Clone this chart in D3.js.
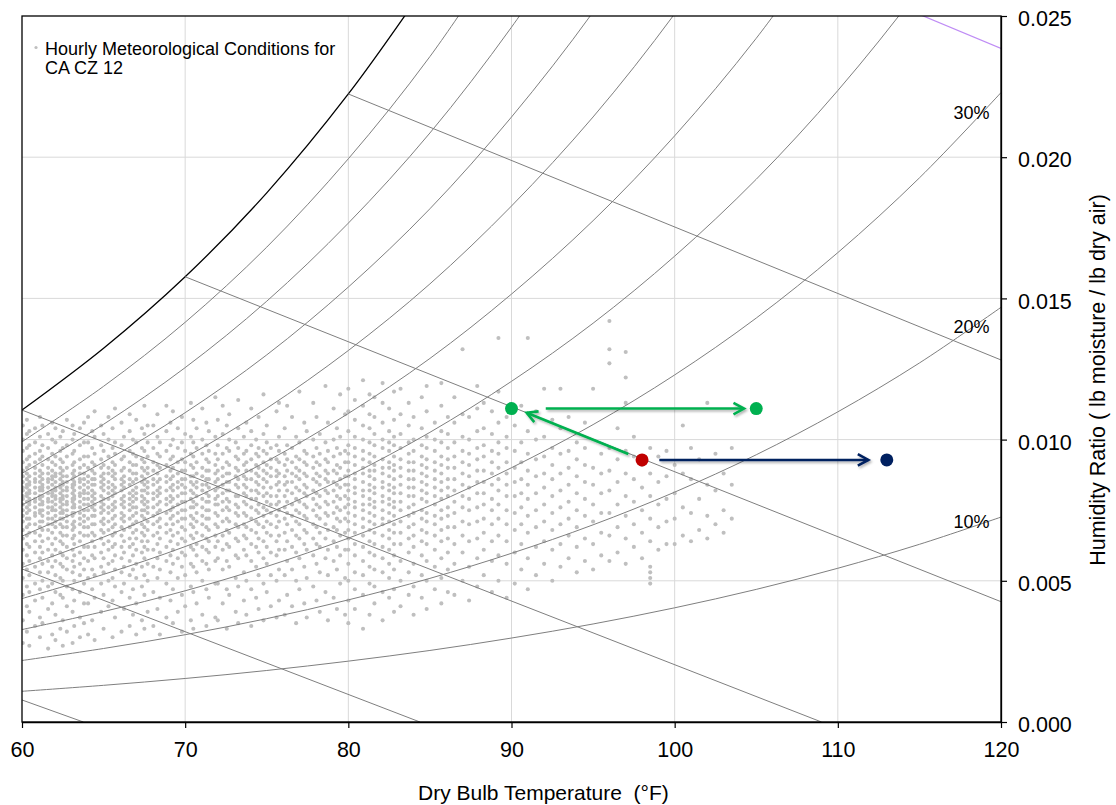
<!DOCTYPE html>
<html><head><meta charset="utf-8">
<script src="https://cdn.jsdelivr.net/npm/d3@7"></script>
<style>
body{margin:0;background:#fff}
text{font-family:"Liberation Sans",Arial,sans-serif;fill:#000}
</style></head>
<body><svg id="chart" width="1116" height="805"></svg>
<script>
// ---------- data ----------
const xTicks = [60,70,80,90,100,110,120];
const yTicks = [0,0.005,0.010,0.015,0.020,0.025];
const curveTemps = [60,65,70,75,80,85,90,95,100,105,110,115,120];
const rh10 = [0.001087,0.001299,0.001541,0.001824,0.002155,0.002533,0.002973,0.003471,0.004044,0.004696,0.005444,0.006292,0.007256];
const rh20 = [0.002178,0.002603,0.003091,0.003660,0.004324,0.005086,0.005974,0.006982,0.008140,0.009463,0.010983,0.012713,0.014683];
const rh30 = [0.003273,0.003912,0.004647,0.005506,0.006509,0.007661,0.009004,0.010531,0.012290,0.014304,0.016622,0.019267,0.022288];
const rh40 = [0.004371,0.005228,0.006212,0.007363,0.008709,0.010257,0.012063,0.014121,0.016496,0.019219,0.022361,0.025957,0.030076];
const rh50 = [0.005474,0.006548,0.007784,0.009230,0.010924,0.012874,0.015153,0.017752,0.020757,0.024211,0.028205];
const rh60 = [0.006580,0.007874,0.009365,0.011110,0.013155,0.015513,0.018272,0.021425,0.025077,0.029281];
const rh70 = [0.007690,0.009206,0.010953,0.013000,0.015402,0.018174,0.021423,0.025140,0.029454];
const rh80 = [0.008804,0.010543,0.012549,0.014901,0.017665,0.020857,0.024604,0.028899];
const rh90 = [0.009923,0.011887,0.014154,0.016815,0.019944,0.023563,0.027817];
const rh100 = [0.011045,0.013235,0.015766,0.018739,0.022239,0.026292];
const rhCurves = [rh10,rh20,rh30,rh40,rh50,rh60,rh70,rh80,rh90];

// constant wet-bulb lines [T, W] end points
const wb40 = [[60,0.00078],[63.76,0]];
const wb50 = [[60,0.00542],[84.39,0]];
const wb60 = [[60,0.011045],[109.0,0]];
const wb70 = [[70,0.015766],[120,0.00426]];
const wb80 = [[80,0.022239],[120,0.01282]];
const wb90 = [[90,0.031063],[120,0.023855]];
const wbGray = [wb40,wb50,wb60,wb70,wb80];

const rhLabelText = ["10%","20%","30%"];
const rhLabelT = [119.3,119.3,119.3];
const rhLabelW = [0.00687,0.013775,0.02135];

const markerT = [98,90,105,113];
const markerW = [0.00928,0.0111,0.0111,0.00928];
const markerColor = ["#c00000","#00b050","#00b050","#002060"];

const arrowFrom = [[97.16,0.00949],[92.1,0.0111],[99.06,0.00928]];
const arrowTo   = [[90.93,0.01095],[104.25,0.0111],[111.87,0.00928]];
const arrowColor = ["#00b050","#00b050","#002060"];

// hourly conditions: [dry bulb °F, humidity ratio values x 1e-4]
const scatterCols = [
[60.05,[28,36,45,51,56,61,65,68,71,73,75,77,79,80,82,83,85,87,89,92,96,100,105]],
[60.30,[32,41,48,54,59,63,66,69,72,74,76,78,80,81,83,84,86,88,90,93,97,102,107]],
[60.45,[27,39,46,52,57,62,67,70,72,75,77,78,79,81,82,84,85,87,91,94,98,103]],
[60.80,[34,43,49,55,60,64,67,70,73,74,76,78,79,81,83,85,86,88,90,92,95,99,104]],
[61.10,[30,37,47,53,58,62,66,69,71,74,75,77,79,80,82,83,85,87,89,93,96,101,108]],
[61.25,[35,44,50,56,60,64,68,71,73,75,77,78,80,82,83,84,86,88,91,94,98,105]],
[61.60,[26,40,48,53,57,61,65,68,70,72,74,76,78,79,81,83,85,86,88,90,93,97,102]],
[61.85,[31,42,49,55,59,63,67,70,72,75,76,78,80,81,82,84,86,87,89,92,95,100,106]],
[62.05,[29,38,46,52,57,61,65,69,71,73,75,77,79,80,82,83,85,87,88,91,94,99,104]],
[62.35,[33,45,51,56,60,64,67,70,72,74,76,78,79,81,83,84,86,88,90,93,96,101]],
[62.50,[27,36,44,50,55,59,63,66,69,72,74,75,77,79,80,82,84,85,87,89,92,97,103]],
[62.75,[32,41,48,54,58,62,66,69,71,73,75,77,78,80,82,83,85,87,90,94,98,107]],
[63.10,[28,39,47,53,57,61,65,68,70,73,74,76,78,79,81,83,84,86,88,91,95,100,105]],
[63.20,[34,43,50,55,59,63,66,69,71,74,76,77,79,80,82,84,85,87,89,92,96,102]],
[63.55,[30,37,46,52,56,60,64,67,70,72,74,76,78,80,81,83,85,86,88,90,93,98,104]],
[63.80,[35,42,49,54,58,62,66,69,71,73,75,77,79,81,82,84,86,88,91,94,99,106]],
[64.05,[31,42,51,57,62,66,69,72,75,77,79,81,83,85,87,90,94,99,108]],
[64.30,[36,47,54,59,64,67,70,73,76,78,80,82,84,86,89,92,97,103]],
[64.45,[29,44,52,58,62,66,70,73,75,77,79,81,84,86,88,91,95,101,110]],
[64.85,[39,49,55,60,65,68,71,74,76,78,80,83,85,87,90,93,98,105]],
[65.00,[33,45,53,58,63,67,70,72,75,77,79,82,84,86,88,91,96,102]],
[65.30,[41,50,56,61,64,68,71,74,76,79,81,83,85,88,90,94,100,108]],
[65.55,[30,43,51,57,62,66,69,72,75,77,80,82,84,87,89,92,97,104]],
[65.70,[37,48,54,59,63,67,70,73,76,78,81,83,86,88,91,95,99,111]],
[66.10,[32,46,53,58,62,66,69,72,74,77,79,82,84,86,89,93,98,106]],
[66.25,[40,49,55,60,64,68,71,73,76,78,80,83,85,87,90,94,101]],
[66.60,[34,44,52,57,62,65,69,72,75,77,79,81,84,86,89,92,96,103,109]],
[66.80,[38,47,54,59,63,67,70,73,76,78,80,82,85,88,91,95,100]],
[67.00,[31,42,51,56,61,65,68,71,74,76,79,81,83,86,88,91,94,99,107]],
[67.35,[36,48,55,60,64,67,70,73,75,78,80,82,85,87,90,93,97,104]],
[67.50,[33,45,52,58,62,66,69,72,75,77,79,82,84,86,89,92,96,102,112]],
[67.70,[39,50,56,61,64,68,71,74,76,78,81,83,85,88,90,94,99,105]],
[68.05,[34,46,55,61,66,70,73,76,79,81,84,86,89,92,97,105]],
[68.30,[40,51,58,63,67,71,74,77,80,82,85,88,91,95,101,109]],
[68.45,[31,44,54,60,65,69,72,75,78,81,83,86,90,94,99]],
[68.85,[37,49,57,62,67,70,74,77,79,82,85,87,91,96,103,112]],
[69.10,[43,53,59,64,68,72,75,78,80,83,86,89,93,98,106]],
[69.25,[35,47,56,61,66,70,73,76,79,82,84,87,90,94,100,110]],
[69.55,[39,51,58,63,67,71,74,77,80,83,85,88,92,97,104]],
[69.80,[32,45,55,60,65,69,72,75,78,81,84,86,89,93,99,108]],
[70.00,[41,52,59,64,68,72,75,78,81,83,86,89,92,96,102]],
[70.35,[36,48,56,62,66,70,73,76,79,82,85,87,91,95,101,113]],
[70.50,[33,46,55,61,65,69,72,76,78,81,84,87,90,94,99,107]],
[70.70,[42,53,59,63,67,71,74,77,80,83,85,88,92,97,104]],
[71.05,[38,50,57,62,66,70,73,76,79,82,84,87,90,95,100,111]],
[71.30,[34,47,56,61,65,69,72,75,78,81,84,86,89,93,98,106]],
[71.45,[44,54,60,64,68,72,75,78,80,83,86,89,92,96,103]],
[71.85,[37,49,57,62,66,70,74,77,79,82,85,88,91,95,101,115]],
[72.00,[36,49,58,64,69,73,77,80,83,86,89,93,98,107]],
[72.30,[42,54,61,66,71,75,78,81,84,87,90,95,102,112]],
[72.55,[33,47,57,63,68,72,76,79,82,85,88,92,97,105]],
[72.70,[45,55,62,67,71,75,78,82,85,88,91,96,100,109]],
[73.10,[39,51,59,65,70,74,77,80,84,87,90,94,99]],
[73.25,[35,48,58,64,69,73,76,80,83,86,89,93,97,104,114]],
[73.60,[43,53,61,66,70,74,78,81,84,87,91,95,101]],
[73.75,[38,50,59,65,69,73,77,80,83,86,89,92,96,106]],
[74.05,[34,47,57,63,68,72,76,79,82,86,89,93,98,103,111]],
[74.35,[44,55,62,67,71,75,79,82,85,88,91,95,100]],
[74.50,[40,52,60,65,70,74,77,81,84,87,90,94,97,108]],
[74.80,[36,49,58,64,69,73,76,80,83,86,89,92,96,102,116]],
[75.00,[46,56,62,67,71,75,78,81,85,88,91,95,99,105]],
[75.25,[41,52,60,66,70,74,77,80,83,87,90,93,97]],
[75.60,[37,50,59,64,69,73,77,80,84,87,89,93,98,110]],
[75.75,[43,54,61,66,71,75,78,82,85,88,92,96,101,113]],
[76.10,[38,52,61,67,72,76,80,84,87,91,95,104]],
[76.25,[45,57,64,70,74,78,82,85,89,93,98,112]],
[76.55,[41,54,62,68,73,77,81,85,88,92,97,108]],
[76.80,[35,50,60,66,71,75,79,83,87,90,94,101]],
[77.00,[47,58,65,70,74,78,82,86,89,93,99,117]],
[77.30,[42,55,63,68,73,77,81,84,88,92,96,106]],
[77.45,[37,51,61,67,72,76,80,83,87,91,95,103]],
[77.85,[48,59,65,70,75,79,82,86,90,94,100,113]],
[78.05,[43,56,63,69,73,77,81,85,88,92,97,108]],
[78.25,[39,53,62,67,72,76,80,84,87,91,95,102]],
[78.60,[46,58,65,70,74,78,82,86,89,93,99,119]],
[78.75,[36,52,61,68,73,77,81,85,88,92,96,106]],
[79.10,[44,57,64,69,74,78,82,85,89,94,100,111]],
[79.30,[40,54,62,68,72,76,80,84,88,91,97,104]],
[79.50,[49,59,66,71,75,79,83,86,90,95,101,116]],
[79.80,[38,51,61,67,72,76,80,84,87,92,96,109]],
[80.0,[35,43,50,56,61,65,68,71,74,77,79,82,84,87,89,92,95,98,103,110,118]],
[80.4,[40,47,53,59,63,67,70,73,76,78,81,83,86,88,91,94,97,101,107,114]],
[80.9,[33,45,52,57,62,66,69,72,75,77,80,82,85,88,90,93,96,100,105,112,121]],
[81.3,[38,49,55,60,64,68,71,74,77,79,82,84,87,89,92,95,99,104,109,116]],
[81.6,[42,48,54,59,63,67,70,73,76,78,81,83,86,89,91,94,98,102,108,115]],
[82.1,[36,46,53,58,62,66,70,72,75,78,80,83,85,88,90,93,97,100,106,113,120]],
[82.5,[44,51,56,61,65,68,71,74,77,79,82,84,87,90,92,96,99,103,111]],
[82.8,[39,47,54,59,63,67,70,73,76,78,81,83,86,89,91,94,98,101,107,117]],
[83.2,[41,50,57,63,67,71,75,78,81,84,87,90,93,97,102,109,118]],
[83.7,[45,53,60,65,69,73,76,80,83,86,89,92,95,99,105,113]],
[84.0,[38,48,56,62,66,70,74,77,80,83,86,89,92,96,100,108]],
[84.5,[44,52,59,64,68,72,75,79,82,85,88,91,94,98,104,115]],
[84.8,[40,50,57,63,67,71,74,78,81,84,87,90,93,97,101,110,119]],
[85.3,[47,55,61,66,70,73,77,80,83,86,89,92,96,100,106]],
[85.7,[42,51,58,64,68,72,75,79,82,85,88,91,94,99,103,112,120]],
[86.1,[46,54,60,65,69,73,76,80,83,86,90,93,97,102,108]],
[86.5,[45,56,63,69,74,78,82,86,90,94,99,106,115]],
[87.0,[50,60,66,71,76,80,84,88,92,96,101,109,132]],
[87.4,[43,55,64,70,75,79,83,87,91,95,100,108]],
[87.9,[48,58,65,71,76,81,85,89,93,97,103,111,119]],
[88.3,[52,61,67,72,77,81,85,89,94,98,104,113]],
[88.8,[46,57,64,70,75,79,84,88,92,96,102,110]],
[89.2,[50,59,66,72,77,82,86,90,95,99,106,117,136]],
[89.7,[44,56,64,70,75,80,84,88,92,97,101,108]],
[90.2,[49,60,68,74,80,85,90,96,105]],
[90.6,[54,63,70,76,81,86,92,99,112]],
[91.0,[47,58,67,73,79,84,89,95,103,136]],
[91.5,[52,62,69,75,81,87,93,100,110]],
[92.0,[56,64,71,77,83,88,94,101,118]],
[92.5,[50,61,68,74,80,86,91,97,107]],
[93.0,[55,63,70,76,82,88,95,104,118]],
[93.5,[58,66,72,78,84,90,96,108]],
[94.0,[53,62,69,75,81,87,93,99]],
[94.5,[57,65,73,79,85,91,97,106]],
[95.0,[54,63,71,77,84,90,118]],
[95.5,[59,67,74,81,88,95]],
[96.0,[57,66,74,82,89,97,127,132,142]],
[96.5,[60,69,77,85,93,104]],
[97.0,[56,65,73,80,88,96,113,122,131]],
[97.5,[62,70,78,86,94,101]],
[98.0,[58,67,75,83,91]],
[98.5,[49,51,53,55,64,72,80,88,97]],
[99.0,[61,69,77,85,94]],
[99.5,[63,71,79,87,96]],
[100.0,[63,72,81,91]],
[100.5,[66,76,88,105]],
[101.0,[64,74,86,97]],
[101.5,[68,79,93]],
[102.0,[65,73,84,113]],
[102.5,[70,82,95]],
[103.0,[67,75,88]],
[103.5,[72,84,97]]
];

// ---------- drawing ----------
const svg = d3.select("#chart");
const L = 22, R = 1001, T = 16, B = 722;
const x = d3.scaleLinear().domain([60,120]).range([L,R]);
const y = d3.scaleLinear().domain([0,0.025]).range([B,T]);

const defs = svg.append("defs");
defs.append("clipPath").attr("id","plot").append("rect")
  .attr("x",L).attr("y",T).attr("width",R-L).attr("height",B-T);
const f = defs.append("filter").attr("id","shadow").attr("x","-20%").attr("y","-50%").attr("width","140%").attr("height","200%");
f.append("feDropShadow").attr("dx",1.5).attr("dy",1.8).attr("stdDeviation",1.2)
  .attr("flood-color","#000").attr("flood-opacity",0.3);

// gridlines
const grid = svg.append("g");
grid.selectAll("line.v").data(xTicks.filter(d=>d>60&&d<120)).join("line")
  .attr("x1",d=>x(d)).attr("x2",d=>x(d)).attr("y1",T).attr("y2",B)
  .attr("stroke","#d9d9d9").attr("stroke-width",1);
grid.selectAll("line.h").data(yTicks.filter(d=>d>0&&d<0.025)).join("line")
  .attr("x1",L).attr("x2",R).attr("y1",d=>y(d)).attr("y2",d=>y(d))
  .attr("stroke","#d9d9d9").attr("stroke-width",1);

// scatter
const pts = [];
scatterCols.forEach(([t,ws])=>ws.forEach(w=>pts.push([t,w/10000])));
svg.append("g").attr("clip-path","url(#plot)")
  .selectAll("circle").data(pts).join("circle")
  .attr("cx",d=>x(d[0])).attr("cy",d=>y(d[1])).attr("r",2.05).attr("fill","#bfbfbf");

// psychrometric lines
const lines = svg.append("g").attr("clip-path","url(#plot)");
const curveGen = d3.line().x((d,i)=>x(curveTemps[i])).y(d=>y(d)).curve(d3.curveCatmullRom.alpha(0.5));
rhCurves.forEach(c=>{
  lines.append("path").attr("d",curveGen(c)).attr("fill","none").attr("stroke","#7f7f7f").attr("stroke-width",1);
});
lines.append("path").attr("d",curveGen(rh100)).attr("fill","none").attr("stroke","#000").attr("stroke-width",1.3);
const segGen = d3.line().x(d=>x(d[0])).y(d=>y(d[1]));
wbGray.forEach(s=>{
  lines.append("path").attr("d",segGen(s)).attr("fill","none").attr("stroke","#7f7f7f").attr("stroke-width",1);
});
lines.append("path").attr("d",segGen(wb90)).attr("fill","none").attr("stroke","#bf8cf5").attr("stroke-width",1.2);

// RH labels
svg.append("g").selectAll("text").data(rhLabelText).join("text")
  .attr("x",(d,i)=>x(rhLabelT[i])).attr("y",(d,i)=>y(rhLabelW[i]))
  .attr("text-anchor","end").attr("font-size",18).text(d=>d);

// frame
svg.append("rect").attr("x",L).attr("y",T).attr("width",R-L).attr("height",B-T)
  .attr("fill","none").attr("stroke","#000").attr("stroke-width",1.3);

// axes
const xAxis = svg.append("g").attr("transform",`translate(0,${B})`)
  .call(d3.axisBottom(x).tickValues(xTicks).tickSize(6).tickSizeOuter(0).tickPadding(14).tickFormat(d3.format("d")));
xAxis.selectAll("text").attr("font-size",21.5).attr("font-family",'"Liberation Sans",Arial,sans-serif');
const yAxis = svg.append("g").attr("transform",`translate(${R},0)`)
  .call(d3.axisRight(y).tickValues(yTicks).tickSize(6).tickSizeOuter(0).tickPadding(11).tickFormat(d3.format(".3f")));
yAxis.selectAll("text").attr("font-size",21.5).attr("dy","0.45em").attr("font-family",'"Liberation Sans",Arial,sans-serif');
[xAxis,yAxis].forEach(a=>{
  a.select(".domain").attr("stroke","#000").attr("stroke-width",1.3);
  a.selectAll(".tick line").attr("stroke","#000").attr("stroke-width",1.2);
  a.selectAll("text").attr("fill","#000");
});

// axis titles
svg.append("text").attr("x",418).attr("y",800).attr("font-size",21)
  .style("white-space","pre").text("Dry Bulb Temperature  (°F)");
svg.append("text").attr("transform","translate(1105,380) rotate(-90)").attr("text-anchor","middle")
  .attr("font-size",21.5).text("Humidity Ratio ( lb moisture / lb dry air)");

// legend
svg.append("circle").attr("cx",36).attr("cy",47.5).attr("r",1.6).attr("fill","#bfbfbf");
svg.append("text").attr("x",45).attr("y",55).attr("font-size",18).text("Hourly Meteorological Conditions for");
svg.append("text").attr("x",45).attr("y",74).attr("font-size",18).text("CA CZ 12");

// arrows
const ag = svg.append("g").attr("filter","url(#shadow)");
arrowFrom.forEach((a,i)=>{
  const x1=x(a[0]), y1=y(a[1]), x2=x(arrowTo[i][0]), y2=y(arrowTo[i][1]);
  const ang=Math.atan2(y2-y1,x2-x1), len=12, h=0.5;
  ag.append("line").attr("x1",x1).attr("y1",y1).attr("x2",x2).attr("y2",y2)
    .attr("stroke",arrowColor[i]).attr("stroke-width",2.6);
  const p1=[x2-len*Math.cos(ang-h), y2-len*Math.sin(ang-h)];
  const p2=[x2-len*Math.cos(ang+h), y2-len*Math.sin(ang+h)];
  ag.append("path").attr("d",`M${p1[0]},${p1[1]}L${x2},${y2}L${p2[0]},${p2[1]}`)
    .attr("fill","none").attr("stroke",arrowColor[i]).attr("stroke-width",2.6).attr("stroke-linejoin","miter");
});

// markers
svg.append("g").selectAll("circle").data(markerT).join("circle")
  .attr("cx",d=>x(d)).attr("cy",(d,i)=>y(markerW[i])).attr("r",6.5)
  .attr("fill",(d,i)=>markerColor[i]);
</script>
</body></html>
